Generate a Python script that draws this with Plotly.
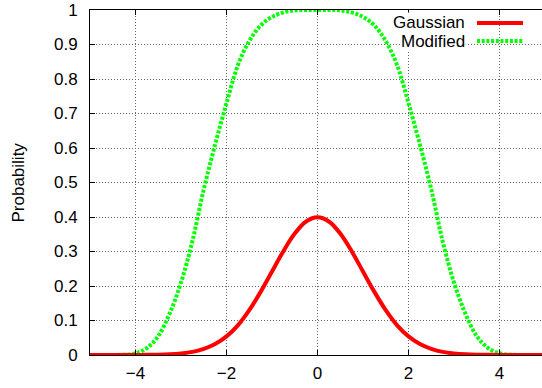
import plotly.graph_objects as go

# x positions (read at 0.25 steps)
x_vals = [-5.0, -4.75, -4.5, -4.25, -4.0, -3.75, -3.5, -3.25, -3.0, -2.75, -2.5, -2.25,
          -2.0, -1.75, -1.5, -1.25, -1.0, -0.75, -0.5, -0.25, 0.0, 0.25, 0.5, 0.75,
          1.0, 1.25, 1.5, 1.75, 2.0, 2.25, 2.5, 2.75, 3.0, 3.25, 3.5, 3.75, 4.0,
          4.25, 4.5, 4.75, 5.0]

gaussian = [0.0, 0.0, 0.0, 0.0, 0.0001, 0.0004, 0.0009, 0.002, 0.0044, 0.009, 0.018, 0.032,
            0.054, 0.086, 0.130, 0.183, 0.242, 0.301, 0.352, 0.387, 0.399, 0.387, 0.352, 0.301,
            0.242, 0.183, 0.130, 0.086, 0.054, 0.032, 0.018, 0.009, 0.0044, 0.002, 0.0009, 0.0004, 0.0001,
            0.0, 0.0, 0.0, 0.0]

modified = [0.0, 0.0, 0.0, 0.001, 0.005, 0.02, 0.055, 0.12, 0.21, 0.33, 0.48, 0.61,
            0.73, 0.84, 0.91, 0.955, 0.98, 0.993, 0.999, 1.0, 1.0, 1.0, 0.999, 0.993,
            0.98, 0.955, 0.91, 0.84, 0.73, 0.61, 0.48, 0.33, 0.21, 0.12, 0.055, 0.02, 0.005,
            0.001, 0.0, 0.0, 0.0]

series_names = ["Gaussian", "Modified"]
x_ticks = [-4, -2, 0, 2, 4]
y_ticks = [0, 0.1, 0.2, 0.3, 0.4, 0.5, 0.6, 0.7, 0.8, 0.9, 1]
y_tick_text = ["0", "0.1", "0.2", "0.3", "0.4", "0.5", "0.6", "0.7", "0.8", "0.9", "1"]

FONT = "Liberation Sans, Arial, sans-serif"
FS = 17
RED = "#ff0000"
GREEN = "#00ff00"
GREEN_DASH = "3px,1.7px"
GRID = "#666666"
GRID_DASH = "1px,2px"

W, H = 542, 388
L, R, T, B = 90, 0, 10, 33

fig = go.Figure()
fig.add_trace(go.Scatter(x=x_vals, y=modified, mode="lines", name=series_names[1],
                         line=dict(color=GREEN, width=4, dash=GREEN_DASH, shape="spline")))
fig.add_trace(go.Scatter(x=x_vals, y=gaussian, mode="lines", name=series_names[0],
                         line=dict(color=RED, width=4, shape="spline")))

fig.update_layout(
    width=W, height=H,
    margin=dict(l=L, r=R, t=T, b=B, autoexpand=False),
    paper_bgcolor="white", plot_bgcolor="white",
    showlegend=False,
    font=dict(family=FONT, size=FS, color="black"),
    xaxis=dict(range=[-5, 4.934], tickvals=x_ticks, ticks="inside", ticklen=5,
               tickcolor="black", showline=True, linecolor="black", linewidth=1,
               mirror="allticks", showgrid=True, gridcolor=GRID, griddash=GRID_DASH,
               gridwidth=1, zeroline=False, tickfont=dict(size=FS), ticklabelstandoff=3,
               ticklabeloverflow="allow"),
    yaxis=dict(range=[0, 1], tickvals=y_ticks, ticktext=y_tick_text, ticks="inside",
               ticklen=5, tickcolor="black", showline=True, linecolor="black",
               linewidth=1, mirror=False, showgrid=True, gridcolor=GRID,
               griddash=GRID_DASH, gridwidth=1, zeroline=False, tickfont=dict(size=FS),
               ticklabelstandoff=8, ticklabeloverflow="allow"),
)

pw, ph = W - L - R, H - T - B

# y-axis title
fig.add_annotation(text="Probability", xref="paper", yref="paper", x=(18 - L) / pw, y=0.5,
                   xanchor="center", yanchor="middle", textangle=-90, showarrow=False,
                   font=dict(size=FS))

# gnuplot-style legend: right-aligned text then line sample (positions in reference pixels)
legend_rows = [(series_names[0], 23, dict(color=RED, width=4)),
               (series_names[1], 41, dict(color=GREEN, width=4, dash=GREEN_DASH))]
for name, ypx, ln in legend_rows:
    yp = 1 - (ypx - T) / ph
    fig.add_annotation(text=name, xref="paper", yref="paper", x=(466 - L) / pw, y=yp,
                       xanchor="right", yanchor="middle", showarrow=False,
                       font=dict(size=FS), bgcolor="white", borderpad=0)
    fig.add_shape(type="line", xref="paper", yref="paper",
                  x0=(477 - L) / pw, x1=(523 - L) / pw, y0=yp, y1=yp, line=ln)

fig.write_html("out.html", config={"displayModeBar": False, "staticPlot": True},
               post_script="document.body.style.margin='0';document.body.style.overflow='hidden';")
